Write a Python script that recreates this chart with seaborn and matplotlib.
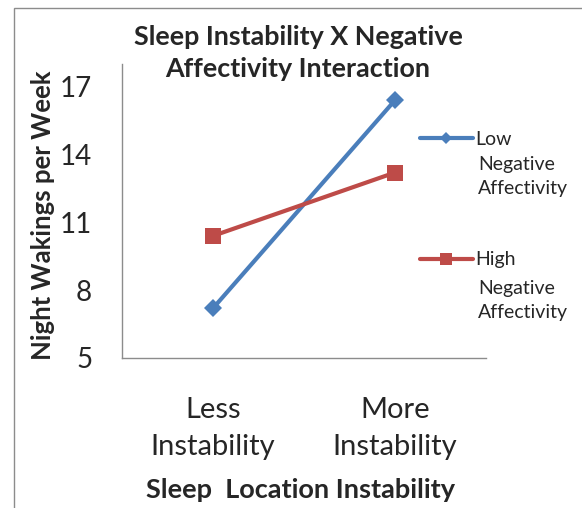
import matplotlib
matplotlib.use("Agg")
import matplotlib.pyplot as plt
import seaborn as sns
import pandas as pd
from matplotlib.patches import Rectangle

categories = ["Less\nInstability", "More\nInstability"]
low_na = [7.2, 16.4]
high_na = [10.4, 13.2]
series_names = ["Low", "High"]
series_rest = "Negative\nAffectivity"
yticks = [5, 8, 11, 14, 17]

sns.set_theme(style="white")
plt.rcParams['font.family'] = ['Lato', 'DejaVu Sans']

df = pd.DataFrame({
    "x": categories * 2,
    "y": low_na + high_na,
    "series": [series_names[0]] * 2 + [series_names[1]] * 2,
})

fig = plt.figure(figsize=(5.82, 5.08), dpi=100)
ax = fig.add_axes([122/582, 1-358/508, (486-122)/582, (358-64)/508])

fig.patches.append(Rectangle((14/582, -0.1), 1.2, 1.1 - 8/508, transform=fig.transFigure,
                             fill=False, edgecolor="#8c8c8c", linewidth=1.0))

colors = {series_names[0]: "#4A7EBB", series_names[1]: "#BE4B48"}
markers = {series_names[0]: "D", series_names[1]: "s"}
sns.lineplot(data=df, x="x", y="y", hue="series", style="series", palette=colors,
             markers=markers, dashes=False, linewidth=3, ax=ax, sort=False,
             markersize=10, markeredgewidth=0)
for ln in ax.lines:
    if ln.get_marker() == "s":
        ln.set_markersize(11.5)
    elif ln.get_marker() == "D":
        ln.set_markersize(9.5)

ax.set_xlim(-0.5, 1.5)
ax.set_ylim(5, 18)
ax.set_yticks(yticks)
ax.set_yticklabels([str(v) for v in yticks], fontsize=20)
ax.set_xticks([-0.5, 0.5, 1.5], minor=False)
ax.set_xticklabels(["", "", ""])
ax.set_xticks([0, 1], minor=True)
ax.set_xticklabels(categories, minor=True, fontsize=21, linespacing=1.55)
ax.tick_params(axis="x", which="minor", length=0, pad=28)
ax.tick_params(axis="x", which="major", length=7, width=1, color="#8c8c8c", direction="out")
ax.tick_params(axis="y", length=6.5, width=1, color="#8c8c8c", direction="out", pad=15)

for s in ["top", "right"]:
    ax.spines[s].set_visible(False)
for s in ["left", "bottom"]:
    ax.spines[s].set_color("#8c8c8c")
    ax.spines[s].set_linewidth(1)

ax.set_xlabel("Sleep  Location Instability", fontsize=19.5, fontweight="bold")
ax.xaxis.label.set_va("center")
ax.xaxis.set_label_coords((300-122)/364, (358-490)/294)
ax.set_ylabel("Night Wakings per Week", fontsize=18.5, fontweight="bold")
ax.yaxis.label.set_va("center")
ax.yaxis.set_label_coords((43-122)/364, (358-215)/294)

fig.text(298/582, 1-37/508, "Sleep Instability X Negative", ha="center", va="center",
         fontsize=19.4, fontweight="bold")
fig.text(298/582, 1-69/508, "Affectivity Interaction", ha="center", va="center",
         fontsize=19.4, fontweight="bold")

handles, labels = ax.get_legend_handles_labels()
leg = ax.legend(handles, labels, loc="upper left", bbox_to_anchor=(420/582, 1-131/508),
                bbox_transform=fig.transFigure, frameon=False, fontsize=14,
                handlelength=2.7, handletextpad=0.15, labelspacing=5.32,
                borderpad=0, borderaxespad=0)
for h in leg.legend_handles:
    if h.get_marker() == "D":
        h.set_markersize(6.5)
    elif h.get_marker() == "s":
        h.set_markersize(8.5)

fig.text(478/582, 1-156/508, series_rest, ha="left", va="top", fontsize=14, linespacing=1.5)
fig.text(478/582, 1-280/508, series_rest, ha="left", va="top", fontsize=14, linespacing=1.5)

fig.savefig("out.png", dpi=100)
